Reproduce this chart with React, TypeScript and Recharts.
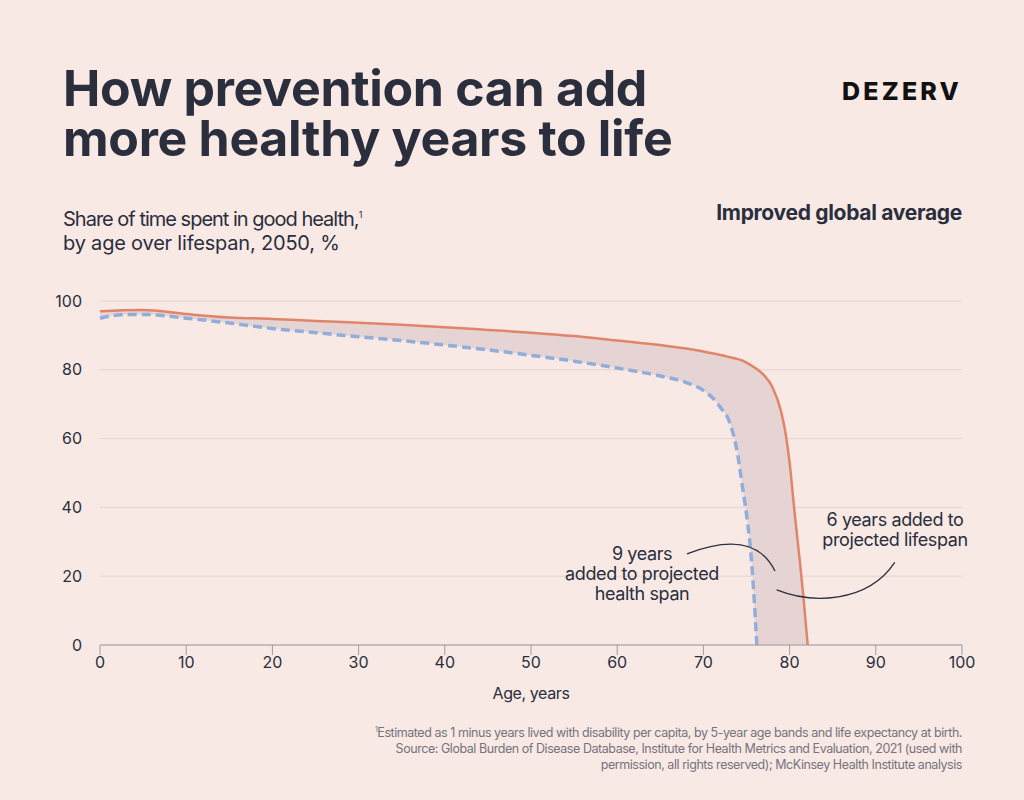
import { Area, CartesianGrid, ComposedChart, Line, XAxis, YAxis } from "recharts";

// Ages (years) sampled along both curves
const ages = [0, 2.5, 5, 10, 15, 20, 25, 30, 35, 40, 45, 50, 55, 60, 65, 68, 70, 71, 72, 73, 74, 74.5, 75, 75.6, 76.2, 77, 78, 79, 79.5, 80, 80.6, 81.2, 81.6, 82.1];
// Improved global average (solid orange): share of time in good health, %
const improved = [97, 97.3, 97.4, 96.2, 95.2, 94.8, 94.2, 93.7, 93.1, 92.4, 91.6, 90.8, 89.8, 88.5, 87.2, 86.2, 85.3, 84.8, 84.3, 83.7, 83.1, 82.7, 82.1, 81.2, 80.2, 78.5, 75, 68, 62, 53, 38, 24, 14, 0];
// Current projection (dashed blue); ends at 76.2 years
const current = [95, 96, 96.1, 95, 93.6, 92, 90.8, 89.6, 88.5, 87.2, 85.8, 84.2, 82.5, 80.5, 78.2, 76.3, 74, 72, 69, 65, 55, 46.5, 38, 24, 0, null, null, null, null, null, null, null, null, null];

const xTicks = [0, 10, 20, 30, 40, 50, 60, 70, 80, 90, 100];
const yTicks = [0, 20, 40, 60, 80, 100];

const rows = ages.map((age, i) => ({
  age,
  improved: improved[i],
  current: current[i],
  band: [current[i] ?? 0, improved[i]] as [number, number],
}));

const INK = "#2a2e3d";
const BG = "#f8e9e4";
const FONT = "Inter, 'Noto Sans', sans-serif";

// plot box (px), used for the annotation connectors only
const PLOT = { left: 100, right: 962, top: 301, bottom: 645 };
const sx = (age: number) => PLOT.left + (age / 100) * (PLOT.right - PLOT.left);
const sy = (v: number) => PLOT.bottom - (v / 100) * (PLOT.bottom - PLOT.top);

const titleStyle = { position: "absolute" as const, left: 63, fontSize: 50, fontWeight: 700, lineHeight: "50px", letterSpacing: -0.3, whiteSpace: "nowrap" as const };

export default function App() {
  return (
    <div style={{ position: "absolute", left: 0, top: 0, width: 1024, height: 800, background: BG, fontFamily: FONT, color: INK, overflow: "hidden" }}>
      <div style={{ ...titleStyle, top: 63 }}>How prevention can add</div>
      <div style={{ ...titleStyle, top: 113 }}>more healthy years to life</div>
      <div style={{ position: "absolute", right: 62, top: 76, fontSize: 25, fontWeight: 800, letterSpacing: 3.2, color: "#111" }}>DEZERV</div>
      <div style={{ position: "absolute", left: 63, top: 201, fontSize: 20, lineHeight: "28px", letterSpacing: -1 }}>
        Share of time spent in good health,<sup style={{ fontSize: 9 }}>1</sup>
      </div>
      <div style={{ position: "absolute", left: 63, top: 229, fontSize: 20, lineHeight: "28px", letterSpacing: -0.2 }}>by age over lifespan, 2050, %</div>
      <div style={{ position: "absolute", right: 62, top: 200, fontSize: 21, fontWeight: 700, letterSpacing: -0.3 }}>Improved global average</div>

      <div style={{ position: "absolute", left: 0, top: 0 }}>
        <ComposedChart width={1024} height={800} data={rows} margin={{ top: 301, right: 62, bottom: 125, left: 40 }}>
          <CartesianGrid vertical={false} stroke="#e3d4d1" strokeWidth={1} />
          <XAxis
            type="number"
            dataKey="age"
            domain={[0, 100]}
            ticks={xTicks}
            height={30}
            tickSize={10}
            axisLine={{ stroke: "#9d9ca6" }}
            tickLine={{ stroke: "#9d9ca6" }}
            tick={{ fill: INK, fontSize: 16, fontFamily: FONT }}
          />
          <YAxis
            type="number"
            domain={[0, 100]}
            ticks={yTicks}
            width={60}
            axisLine={false}
            tickLine={false}
            tickMargin={12}
            tick={{ fill: INK, fontSize: 16, fontFamily: FONT }}
          />
          <Area type="monotone" dataKey="band" stroke="none" fill="#e4d3d2" fillOpacity={0.95} isAnimationActive={false} />
          <Line type="monotone" dataKey="current" stroke="#91aedb" strokeWidth={3.5} strokeDasharray="9 5" dot={false} isAnimationActive={false} />
          <Line type="monotone" dataKey="improved" stroke="#e0856a" strokeWidth={2.5} dot={false} isAnimationActive={false} />
        </ComposedChart>
      </div>

      <svg width={1024} height={800} style={{ position: "absolute", left: 0, top: 0, pointerEvents: "none" }}>
        <path d={`M${sx(68.1)},${sy(26.5)} Q${sx(75.9)},${sy(34)} ${sx(78.3)},${sy(21.5)}`} fill="none" stroke={INK} strokeWidth={1.3} />
        <path d={`M${sx(78.5)},${sy(16)} C${sx(82.5)},${sy(12)} ${sx(89)},${sy(12)} ${sx(92.2)},${sy(24)}`} fill="none" stroke={INK} strokeWidth={1.3} />
      </svg>

      <div style={{ position: "absolute", left: 562, top: 544, width: 160, textAlign: "center", fontSize: 18, lineHeight: "20px", letterSpacing: -0.4 }}>
        9 years
        <br />
        added to projected
        <br />
        health span
      </div>
      <div style={{ position: "absolute", left: 815, top: 510, width: 160, textAlign: "center", fontSize: 18, lineHeight: "20px", letterSpacing: -0.4 }}>
        6 years added to
        <br />
        projected lifespan
      </div>
      <div style={{ position: "absolute", left: 100, width: 862, top: 683, textAlign: "center", fontSize: 16, letterSpacing: -0.4 }}>Age, years</div>
      <div style={{ position: "absolute", right: 62, top: 722, textAlign: "right", fontSize: 12.5, lineHeight: "16px", color: "#75737e", letterSpacing: -0.45 }}>
        <sup style={{ fontSize: 7 }}>1</sup>Estimated as 1 minus years lived with disability per capita, by 5-year age bands and life expectancy at birth.
        <br />
        Source: Global Burden of Disease Database, Institute for Health Metrics and Evaluation, 2021 (used with
        <br />
        permission, all rights reserved); McKinsey Health Institute analysis
      </div>
    </div>
  );
}
